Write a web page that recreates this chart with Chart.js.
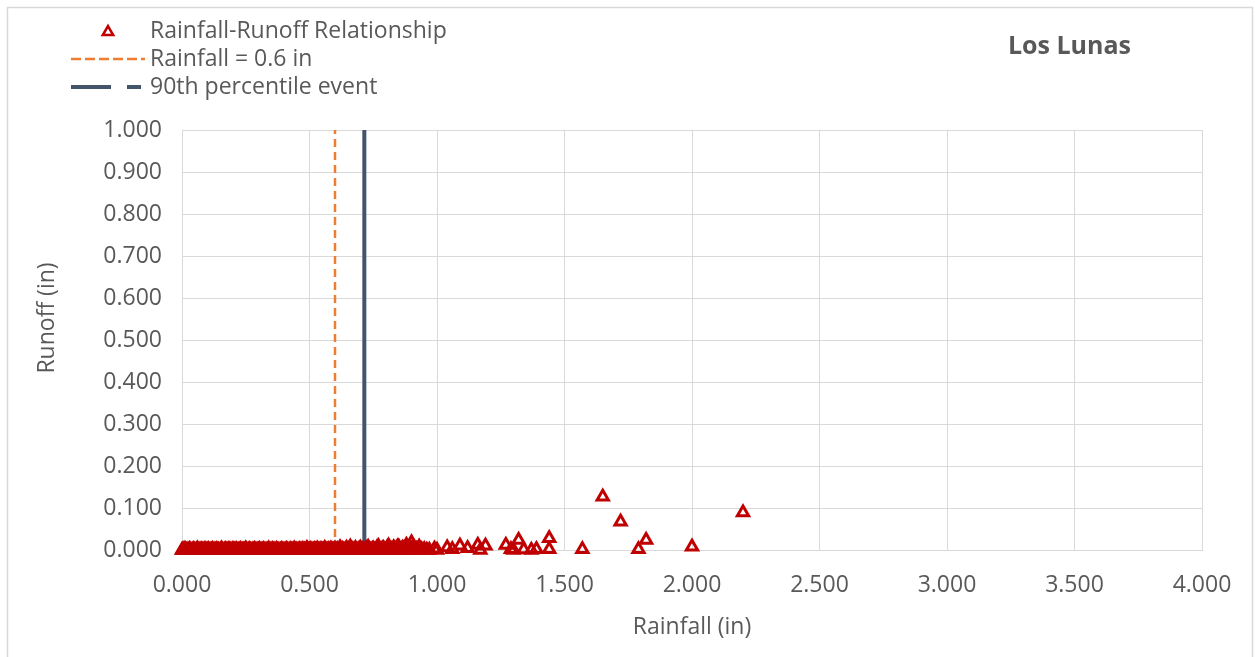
<!DOCTYPE html>
<html>
<head>
<meta charset="utf-8">
<script src="https://cdn.jsdelivr.net/npm/chart.js@4.4.1/dist/chart.umd.min.js"></script>
<style>
  html, body { margin: 0; padding: 0; background: #fff; }
  #wrap { position: relative; width: 1255px; height: 657px; }
</style>
</head>
<body>
<div id="wrap"><canvas id="runoffChart"></canvas></div>
<script>
'use strict';

// Rainfall-runoff events, Los Lunas (inches)
// small events: the dense band along the x axis
const smallRain = [
  0.000, 0.003, 0.008, 0.010, 0.014, 0.020, 0.024, 0.030, 0.033, 0.040, 0.045, 0.050, 0.056, 0.060, 0.064, 0.070, 0.075, 0.080, 0.086, 0.090, 0.095,
  0.100, 0.104, 0.110, 0.115, 0.120, 0.126, 0.130, 0.135, 0.140, 0.144, 0.150, 0.155, 0.160, 0.166, 0.170, 0.175, 0.180, 0.184, 0.190, 0.196,
  0.200, 0.205, 0.210, 0.214, 0.220, 0.225, 0.230, 0.236, 0.240, 0.245, 0.250, 0.254, 0.260, 0.265, 0.270, 0.276, 0.280, 0.285, 0.290, 0.295,
  0.300, 0.304, 0.310, 0.315, 0.320, 0.325, 0.330, 0.336, 0.340, 0.345, 0.350, 0.355, 0.360, 0.364, 0.370, 0.375, 0.380, 0.386, 0.390, 0.395,
  0.400, 0.405, 0.410, 0.414, 0.420, 0.425, 0.430, 0.435, 0.440, 0.446, 0.450, 0.455, 0.460, 0.465, 0.470, 0.474, 0.480, 0.485, 0.490, 0.496,
  0.500, 0.505, 0.510, 0.515, 0.520, 0.524, 0.530, 0.535, 0.540, 0.545, 0.550, 0.556, 0.560, 0.565, 0.570, 0.575, 0.580, 0.584, 0.590, 0.595,
  0.600, 0.605, 0.610, 0.615, 0.620, 0.626, 0.630, 0.635, 0.640, 0.645, 0.650, 0.655, 0.660, 0.666, 0.670, 0.675, 0.680, 0.685, 0.690, 0.695,
  0.700, 0.705, 0.710, 0.715, 0.720, 0.725, 0.730, 0.735, 0.740, 0.746, 0.750, 0.755, 0.760, 0.765, 0.770, 0.775, 0.780, 0.785, 0.790, 0.795,
  0.800, 0.805, 0.810, 0.815, 0.820, 0.825, 0.830, 0.835, 0.840, 0.845, 0.850, 0.855, 0.860, 0.865, 0.870, 0.875, 0.880, 0.885, 0.890, 0.895,
  0.900, 0.905, 0.910, 0.915, 0.920, 0.925, 0.930, 0.940, 0.950, 0.960,
];
const smallRunoff = [
  0.000, 0.000, 0.002, 0.000, 0.001, 0.000, 0.000, 0.002, 0.000, 0.000, 0.001, 0.000, 0.000, 0.003, 0.000, 0.000, 0.001, 0.000, 0.000, 0.002, 0.000,
  0.000, 0.001, 0.000, 0.000, 0.002, 0.000, 0.000, 0.001, 0.000, 0.000, 0.000, 0.003, 0.000, 0.000, 0.001, 0.000, 0.000, 0.002, 0.000, 0.000,
  0.002, 0.000, 0.000, 0.001, 0.000, 0.000, 0.002, 0.000, 0.000, 0.000, 0.003, 0.000, 0.000, 0.001, 0.000, 0.000, 0.000, 0.002, 0.000, 0.000,
  0.000, 0.002, 0.000, 0.000, 0.001, 0.000, 0.000, 0.000, 0.003, 0.000, 0.000, 0.001, 0.000, 0.000, 0.002, 0.000, 0.000, 0.000, 0.001, 0.000,
  0.000, 0.000, 0.002, 0.000, 0.000, 0.001, 0.000, 0.000, 0.003, 0.000, 0.000, 0.000, 0.001, 0.000, 0.000, 0.002, 0.000, 0.000, 0.004, 0.000,
  0.000, 0.002, 0.000, 0.000, 0.001, 0.000, 0.003, 0.000, 0.000, 0.002, 0.000, 0.000, 0.004, 0.000, 0.000, 0.001, 0.000, 0.003, 0.000, 0.000,
  0.003, 0.000, 0.001, 0.000, 0.006, 0.000, 0.002, 0.000, 0.000, 0.005, 0.000, 0.002, 0.008, 0.000, 0.001, 0.000, 0.004, 0.000, 0.000, 0.003,
  0.005, 0.000, 0.002, 0.000, 0.000, 0.004, 0.007, 0.000, 0.000, 0.002, 0.003, 0.000, 0.000, 0.006, 0.009, 0.000, 0.000, 0.003, 0.004, 0.000,
  0.000, 0.006, 0.010, 0.000, 0.002, 0.000, 0.006, 0.003, 0.000, 0.008, 0.008, 0.000, 0.001, 0.005, 0.003, 0.000, 0.012, 0.004, 0.000, 0.007,
  0.018, 0.004, 0.005, 0.000, 0.002, 0.000, 0.008, 0.001, 0.002, 0.000,
];

// larger events, read one by one
const largeRain = [
  0.97, 0.99, 1.00, 1.04, 1.06, 1.09, 1.12, 1.16, 1.17, 1.19, 1.27, 1.29, 1.30,
  1.32, 1.34, 1.37, 1.39, 1.44, 1.44, 1.57, 1.65, 1.72, 1.79, 1.82, 2.00, 2.20,
];
const largeRunoff = [
  0.000, 0.003, 0.000, 0.006, 0.002, 0.010, 0.004, 0.012, 0.000, 0.010, 0.012, 0.002, 0.000,
  0.024, 0.001, 0.000, 0.002, 0.028, 0.002, 0.002, 0.127, 0.067, 0.002, 0.024, 0.008, 0.089,
];

// reference lines (rainfall, in)
const thresholdRain = 0.6;
const p90Rain = 0.715;

const xTicks = [0, 0.5, 1, 1.5, 2, 2.5, 3, 3.5, 4];
const yTicks = [0, 0.1, 0.2, 0.3, 0.4, 0.5, 0.6, 0.7, 0.8, 0.9, 1];

const grey = '#595959';
const baseFont = '"Open Sans", "Liberation Sans", sans-serif';

const rainfall = smallRain.concat(largeRain);
const runoff = smallRunoff.concat(largeRunoff);
const eventPoints = rainfall.map((r, i) => ({ x: r, y: runoff[i] }));

// legend, titles and outer frame (placed like the original worksheet chart)
const overlay = {
  id: 'overlay',
  beforeDraw(chart) {
    const ctx = chart.ctx;
    ctx.save();
    ctx.strokeStyle = '#d9d9d9';
    ctx.lineWidth = 1.5;
    ctx.strokeRect(7.5, 7.5, 1245, 700);
    ctx.restore();
  },
  afterDraw(chart) {
    const ctx = chart.ctx;
    const sets = chart.data.datasets;
    ctx.save();
    ctx.font = '23px ' + baseFont;
    ctx.fillStyle = grey;
    ctx.textBaseline = 'middle';
    ctx.textAlign = 'left';
    sets.forEach((ds, i) => {
      const y = 31 + i * 28;
      ctx.save();
      ctx.strokeStyle = ds.borderColor;
      if (ds.type === 'scatter') {
        ctx.fillStyle = 'rgba(0,0,0,0)';
        ctx.lineWidth = 2.5;
        Chart.helpers.drawPoint(ctx, { pointStyle: 'triangle', radius: 6, borderWidth: 2.5, rotation: 0 }, 108, y + 1);
      } else {
        ctx.lineWidth = ds.borderWidth;
        ctx.setLineDash(ds.legendDash);
        ctx.beginPath();
        ctx.moveTo(71, y);
        ctx.lineTo(145, y);
        ctx.stroke();
      }
      ctx.restore();
      ctx.fillText(ds.label, 150, y);
    });

    // y axis title sits a little above the axis middle in the original
    ctx.save();
    ctx.translate(47, 318);
    ctx.rotate(-Math.PI / 2);
    ctx.textAlign = 'center';
    ctx.fillText('Runoff (in)', 0, 0);
    ctx.restore();

    ctx.font = 'bold 25px ' + baseFont;
    ctx.textAlign = 'right';
    ctx.fillText('Los Lunas', 1131, 47);
    ctx.restore();
  },
};

const runoffConfig = {
  type: 'scatter',
  data: {
    datasets: [
      {
        type: 'scatter',
        label: 'Rainfall-Runoff Relationship',
        data: eventPoints,
        pointStyle: 'triangle',
        pointRadius: 6.5,
        pointHoverRadius: 6.5,
        pointBorderWidth: 3,
        borderColor: '#c00000',
        backgroundColor: 'rgba(0,0,0,0)',
        clip: false,
      },
      {
        type: 'line',
        label: 'Rainfall = 0.6 in',
        data: [{ x: thresholdRain, y: yTicks[0] }, { x: thresholdRain, y: yTicks[yTicks.length - 1] }],
        borderColor: '#ed7d31',
        borderWidth: 2.5,
        borderDash: [8, 5],
        legendDash: [10, 4],
        pointRadius: 0,
      },
      {
        type: 'line',
        label: '90th percentile event',
        data: [{ x: p90Rain, y: yTicks[0] }, { x: p90Rain, y: yTicks[yTicks.length - 1] }],
        borderColor: '#44546a',
        borderWidth: 4,
        legendDash: [40, 16, 14, 100],
        pointRadius: 0,
      },
    ],
  },
  options: {
    responsive: true,
    maintainAspectRatio: false,
    animation: false,
    layout: { padding: { top: 130, right: 53, bottom: 0, left: 0 } },
    plugins: {
      legend: { display: false },
      title: { display: false },
      tooltip: { enabled: false },
    },
    scales: {
      x: {
        type: 'linear',
        min: 0,
        max: 4,
        afterBuildTicks: (s) => { s.ticks = xTicks.map((v) => ({ value: v })); },
        afterFit: (s) => { s.height = 107; },
        grid: { color: '#d9d9d9', lineWidth: 1, drawTicks: false },
        border: { color: '#d9d9d9' },
        ticks: {
          padding: 22,
          color: grey,
          font: { family: baseFont, size: 23 },
          callback: (v) => v.toFixed(3),
        },
        title: {
          display: true,
          text: 'Rainfall (in)',
          color: grey,
          font: { family: baseFont, size: 23 },
          padding: { top: 0, bottom: 16 },
        },
      },
      y: {
        type: 'linear',
        min: 0,
        max: 1,
        afterBuildTicks: (s) => { s.ticks = yTicks.map((v) => ({ value: v })); },
        afterFit: (s) => { s.width = 182; },
        grid: { color: '#d9d9d9', lineWidth: 1, drawTicks: false },
        border: { color: '#d9d9d9' },
        ticks: {
          padding: 20,
          color: grey,
          font: { family: baseFont, size: 23 },
          callback: (v) => v.toFixed(3),
        },
        title: { display: false, text: 'Runoff (in)' },
      },
    },
  },
  plugins: [overlay],
};

const runoffChart = new Chart(document.getElementById('runoffChart'), runoffConfig);
</script>
</body>
</html>
